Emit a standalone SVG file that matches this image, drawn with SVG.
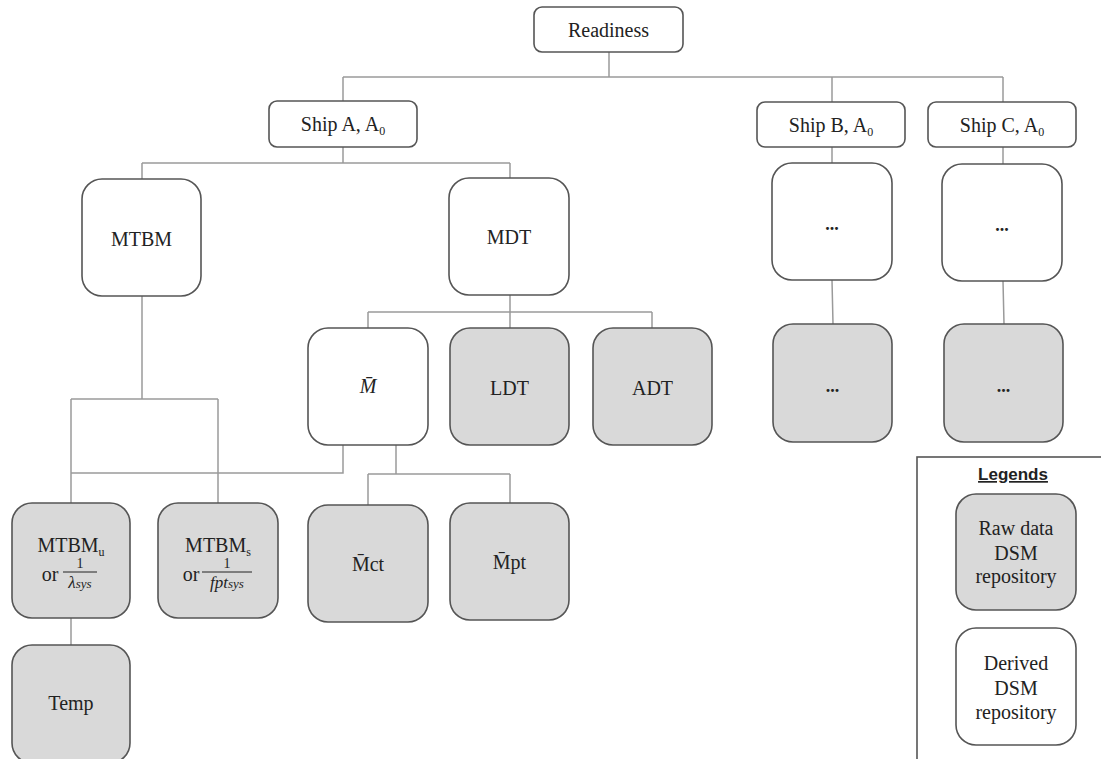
<svg xmlns="http://www.w3.org/2000/svg" width="1101" height="759" viewBox="0 0 1101 759">
<style>
  .bx { stroke: #555; stroke-width: 1.6; fill: #fff; }
  .raw { fill: #d9d9d9; }
  .ln { stroke: #9a9a9a; stroke-width: 1.5; fill: none; }
  text { font-family: "Liberation Serif", "Times New Roman", serif; font-size: 20px; fill: #222; text-anchor: middle; }
  .sub { font-size: 12px; }
  .it { font-style: italic; }
  .one { font-size: 14px; }
  .den { font-size: 17px; font-style: italic; }
  .dsub { font-size: 13px; }
  .dots { font-weight: bold; font-size: 18px; }
  .leg { font-family: "Liberation Sans", Arial, sans-serif; font-weight: bold; font-size: 17px; text-decoration: underline; }
  .fr { stroke: #222; stroke-width: 1; }
</style>
<rect width="1101" height="759" fill="#fff"/>
<g id="connectors">
  <path class="ln" d="M609 52V77M343 77H1003M343 77V101M832 77V102M1003 77V102"/>
  <path class="ln" d="M343 147V163M142 163H510M142 163V179M510 163V178"/>
  <path class="ln" d="M142 296V399M71 399H218M71 399V503M218 399V503"/>
  <path class="ln" d="M510 295V312M368 312H652M368 312V328M510 312V328M652 312V328"/>
  <path class="ln" d="M343 445V473H71"/>
  <path class="ln" d="M396 445V474M368 474H510M368 474V505M510 474V503"/>
  <path class="ln" d="M71 618V645"/>
  <path class="ln" d="M832 147V163M832 280L833 324M1003 147V164M1003 281L1004 324"/>
</g>
<g id="readiness">
  <rect class="bx" x="534" y="7" width="149" height="45" rx="8"/>
  <text x="608.5" y="37">Readiness</text>
</g>
<g id="shipA">
  <rect class="bx" x="269" y="101" width="148" height="46" rx="8"/>
  <text x="343" y="131">Ship A, A<tspan class="sub" dy="4">0</tspan></text>
</g>
<g id="shipB">
  <rect class="bx" x="757" y="102" width="148" height="45" rx="8"/>
  <text x="831" y="132">Ship B, A<tspan class="sub" dy="4">0</tspan></text>
</g>
<g id="shipC">
  <rect class="bx" x="928" y="102" width="148" height="45" rx="8"/>
  <text x="1002" y="132">Ship C, A<tspan class="sub" dy="4">0</tspan></text>
</g>
<g id="mtbm">
  <rect class="bx" x="82" y="179" width="119" height="117" rx="20"/>
  <text x="141.5" y="246">MTBM</text>
</g>
<g id="mdt">
  <rect class="bx" x="449" y="178" width="120" height="117" rx="20"/>
  <text x="509" y="244">MDT</text>
</g>
<g id="shipB-derived">
  <rect class="bx" x="772" y="163" width="120" height="117" rx="20"/>
  <text class="dots" x="832" y="230">...</text>
</g>
<g id="shipC-derived">
  <rect class="bx" x="942" y="164" width="120" height="117" rx="20"/>
  <text class="dots" x="1002" y="231">...</text>
</g>
<g id="mbar">
  <rect class="bx" x="308" y="328" width="120" height="117" rx="20"/>
  <text class="it" x="368" y="393">M&#x0304;</text>
</g>
<g id="ldt">
  <rect class="bx raw" x="450" y="328" width="119" height="117" rx="20"/>
  <text x="509.5" y="395">LDT</text>
</g>
<g id="adt">
  <rect class="bx raw" x="593" y="328" width="119" height="117" rx="20"/>
  <text x="652.5" y="395">ADT</text>
</g>
<g id="shipB-raw">
  <rect class="bx raw" x="773" y="324" width="119" height="118" rx="20"/>
  <text class="dots" x="832.5" y="392">...</text>
</g>
<g id="shipC-raw">
  <rect class="bx raw" x="944" y="324" width="119" height="118" rx="20"/>
  <text class="dots" x="1003.5" y="392">...</text>
</g>
<g id="mtbmu">
  <rect class="bx raw" x="12" y="503" width="118" height="115" rx="20"/>
  <text x="71" y="552">MTBM<tspan class="sub" dy="4">u</tspan></text>
  <text x="50" y="581">or</text>
  <text class="one" x="80" y="568">1</text>
  <line class="fr" x1="63" y1="572" x2="97" y2="572"/>
  <text class="den" x="80" y="588">λ<tspan class="dsub">sys</tspan></text>
</g>
<g id="mtbms">
  <rect class="bx raw" x="158" y="503" width="120" height="115" rx="20"/>
  <text x="218" y="552">MTBM<tspan class="sub" dy="4">s</tspan></text>
  <text x="191" y="581">or</text>
  <text class="one" x="227" y="568">1</text>
  <line class="fr" x1="202" y1="572" x2="252" y2="572"/>
  <text class="den" x="227" y="588">fpt<tspan class="dsub">sys</tspan></text>
</g>
<g id="temp">
  <rect class="bx raw" x="12" y="645" width="118" height="118" rx="20"/>
  <text x="71" y="710">Temp</text>
</g>
<g id="mct">
  <rect class="bx raw" x="308" y="505" width="120" height="117" rx="20"/>
  <text x="368" y="571">M&#x0304;ct</text>
</g>
<g id="mpt">
  <rect class="bx raw" x="450" y="503" width="119" height="117" rx="20"/>
  <text x="509.5" y="569">M&#x0304;pt</text>
</g>
<g id="legend">
  <rect x="917" y="457" width="200" height="320" fill="#fff" stroke="#555" stroke-width="1.6"/>
  <text class="leg" x="1013" y="480">Legends</text>
  <rect class="bx raw" x="956" y="494" width="120" height="116" rx="20"/>
  <text x="1016" y="535">Raw data</text>
  <text x="1016" y="560">DSM</text>
  <text x="1016" y="583">repository</text>
  <rect class="bx" x="956" y="628" width="120" height="117" rx="20"/>
  <text x="1016" y="670">Derived</text>
  <text x="1016" y="695">DSM</text>
  <text x="1016" y="719">repository</text>
</g>
</svg>
